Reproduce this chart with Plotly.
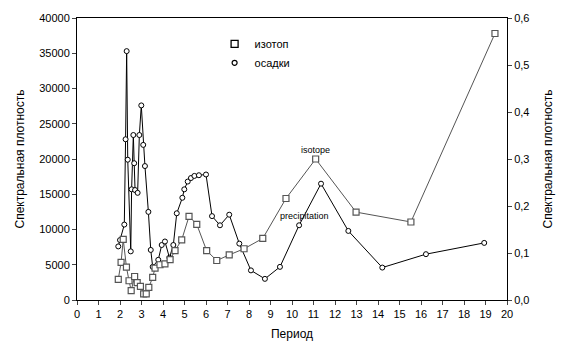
import plotly.graph_objects as go

# isotope series (period, spectral density on right axis)
iso_period = [1.92, 2.05, 2.15, 2.30, 2.42, 2.52, 2.68, 2.80, 2.95, 3.10, 3.22, 3.34, 3.52, 3.63,
              3.86, 4.09, 4.33, 4.56, 4.87, 5.21, 5.57, 6.03, 6.50, 7.08, 7.77, 8.64, 9.72,
              11.10, 12.98, 15.53, 19.44]
iso_value = [0.044, 0.080, 0.129, 0.070, 0.041, 0.020, 0.050, 0.037, 0.029, 0.013, 0.013, 0.027,
             0.048, 0.068, 0.075, 0.077, 0.086, 0.105, 0.128, 0.178, 0.161, 0.105, 0.084, 0.096,
             0.109, 0.131, 0.216, 0.300, 0.187, 0.166, 0.567]

# precipitation series (period, spectral density on left axis)
pre_period = [1.92, 2.00, 2.20, 2.26, 2.31, 2.36, 2.50, 2.54, 2.62, 2.66, 2.70, 2.82, 2.90, 2.99,
              3.08, 3.16, 3.32, 3.43, 3.52, 3.78, 3.94, 4.09, 4.30, 4.48, 4.64, 4.90, 4.99,
              5.15, 5.30, 5.46, 5.67, 6.00, 6.28, 6.65, 7.08, 7.55, 8.09, 8.74, 9.44, 10.33,
              11.35, 12.62, 14.20, 16.23, 18.94]
pre_value = [7600, 8500, 10700, 22800, 35300, 19900, 6900, 15700, 23400, 19400, 15600, 15200,
             23400, 27600, 22000, 19000, 12500, 7100, 4700, 5700, 7800, 8300, 6000, 7800, 12300,
             14500, 15700, 16800, 17300, 17600, 17700, 17800, 11900, 10600, 12100, 8000, 4200,
             3000, 4700, 10600, 16500, 9800, 4600, 6500, 8100]

x_ticks = list(range(0, 21))
left_ticks = [0, 5000, 10000, 15000, 20000, 25000, 30000, 35000, 40000]
right_ticks = [0.0, 0.1, 0.2, 0.3, 0.4, 0.5, 0.6]

FONT = "Liberation Sans, Arial, sans-serif"
ISO_COLOR = "#555555"
PRE_COLOR = "#000000"

fig = go.Figure()
fig.add_trace(go.Scatter(
    x=iso_period, y=iso_value, yaxis="y2", mode="lines+markers", showlegend=False,
    line=dict(color=ISO_COLOR, width=1),
    marker=dict(symbol="square", size=6, color="white", line=dict(color=ISO_COLOR, width=1.2)),
))
fig.add_trace(go.Scatter(
    x=pre_period, y=pre_value, mode="lines+markers", showlegend=False,
    line=dict(color=PRE_COLOR, width=1),
    marker=dict(symbol="circle", size=5, color="white", line=dict(color=PRE_COLOR, width=1)),
))
# legend entries
fig.add_trace(go.Scatter(x=[None], y=[None], mode="markers", name="изотоп",
                         marker=dict(symbol="square", size=7, color="white",
                                     line=dict(color="#000", width=1.3))))
fig.add_trace(go.Scatter(x=[None], y=[None], mode="markers", name="осадки",
                         marker=dict(symbol="circle", size=5, color="white",
                                     line=dict(color="#000", width=1.2))))

fig.add_annotation(x=11.1, y=21300, text="isotope", showarrow=False,
                   font=dict(size=9, color="#000", family=FONT))
fig.add_annotation(x=10.6, y=11900, text="precipitation", showarrow=False,
                   font=dict(size=9, color="#000", family=FONT))

fig.update_layout(
    width=569, height=351,
    margin=dict(l=77, r=62, t=14, b=50),
    paper_bgcolor="white", plot_bgcolor="white",
    separators=",.",
    font=dict(family=FONT, size=11, color="#000"),
    legend=dict(x=0.32, y=0.96, xanchor="left", yanchor="top", bgcolor="rgba(0,0,0,0)",
                font=dict(size=11, family=FONT), itemwidth=30, tracegroupgap=0),
    xaxis=dict(range=[0, 20], tickvals=x_ticks, ticks="outside", ticklen=4, showgrid=False,
               zeroline=False, showline=True, linecolor="#000", linewidth=1, mirror=True,
               title=dict(text="Период", font=dict(size=12), standoff=10)),
    yaxis=dict(range=[0, 40000], tickvals=left_ticks, tickformat="d", ticks="outside", ticklen=4,
               showgrid=False, zeroline=False, showline=True, linecolor="#000", linewidth=1,
               title=dict(text="Спектральная плотность", font=dict(size=12), standoff=12)),
    yaxis2=dict(range=[0, 0.6], tickvals=right_ticks, tickformat=".1f", ticks="outside", ticklen=4,
                overlaying="y", side="right", showgrid=False, zeroline=False, showline=True,
                linecolor="#000", linewidth=1,
                title=dict(text="Спектральная плотность", font=dict(size=12), standoff=15)),
)

fig.write_html("out.html")
